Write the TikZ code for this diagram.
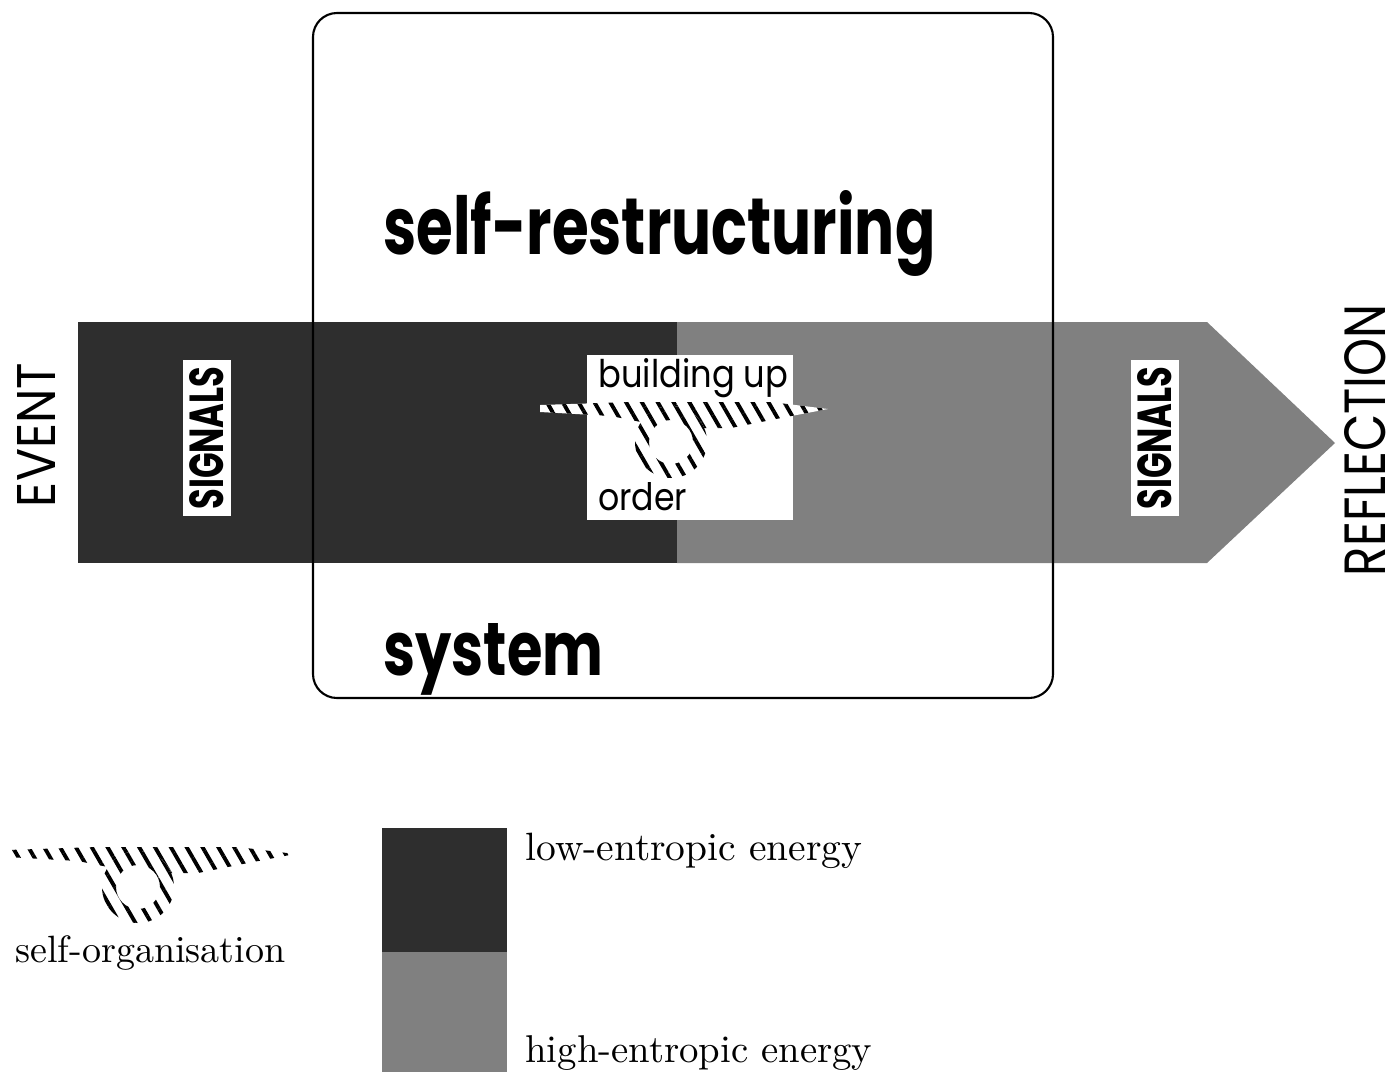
\documentclass[tikz,border=0pt]{standalone}
\usepackage{fontspec}
\usepackage{graphicx}
\usetikzlibrary{patterns.meta}
\newfontfamily\geofont{Poppins}
\newdimen\pxu
\pxu=0.02cm

\begin{document}
\begin{tikzpicture}[x=0.02cm,y=-0.02cm,
	darkfill/.style={fill=black!82},
	lightfill/.style={fill=black!50},
	hatch/.style={preaction={fill=white},pattern={Lines[angle=-60,distance=7.8pt,line width=2.2pt]},pattern color=black},
	sanstext/.style={inner sep=0pt,font=\geofont},
	seriftext/.style={inner sep=0pt,anchor=base west},
	sigbox/.style={fill=white,inner sep=0.13cm,rotate=90,font=\geofont\bfseries},
	selforg/.pic={
		\fill[hatch] (-131,-37) -- (-40,-40) -- (100,-40) -- (157,-33) -- (110,-24) -- (60,-14) -- (0,-14) -- (-60,-26) -- (-131,-30) -- cycle;
		\fill[hatch,even odd rule] (0,0) circle[radius=36] (0,0) circle[radius=22];
	}]
	\useasboundingbox (0,0) rectangle (1395,1072);
	
	% Energy band and arrow
	\fill[darkfill] (78,322) rectangle (677,563);
	\fill[lightfill] (677,322) -- (1207,322) -- (1335,443) -- (1207,563) -- (677,563) -- cycle;
	
	% System frame
	\draw[line width=1.2pt, rounded corners=0.48cm] (313,13) rectangle (1053,698);
	\node[sanstext,anchor=base west] (restruct) at (383,254) {\resizebox{552\pxu}{64\pxu}{\bfseries self-restructuring}};
	\node[sanstext,anchor=base west] (system) at (383,675) {\resizebox{220\pxu}{52\pxu}{\bfseries system}};
	
	% Order box with self-organisation
	\fill[white] (587,355) rectangle (793,520);
	\node[sanstext,anchor=base west] (buildup) at (598,387) {\resizebox{190\pxu}{29\pxu}{building up}};
	\node[sanstext,anchor=base west] (order) at (598,510) {\resizebox{89\pxu}{28\pxu}{order}};
	\pic at (671,442) {selforg};
	
	% Signals
	\node[sigbox] (sigin) at (207,438) {\resizebox{143\pxu}{34\pxu}{SIGNALS}};
	\node[sigbox] (sigout) at (1155,438) {\resizebox{143\pxu}{34\pxu}{SIGNALS}};
	\node[sanstext,rotate=90] (event) at (36,435) {\resizebox{144\pxu}{38\pxu}{EVENT}};
	\node[sanstext,rotate=90] (reflect) at (1365,440) {\resizebox{272\pxu}{41\pxu}{REFLECTION}};
	
	% Legend
	\pic at (138,887) {selforg};
	\node[seriftext] (orglabel) at (15,962) {\resizebox{270\pxu}{!}{self-organisation}};
	\fill[darkfill] (382,828) rectangle (507,952);
	\fill[lightfill] (382,952) rectangle (507,1072);
	\node[seriftext] (lowlabel) at (525,860) {\resizebox{337\pxu}{!}{low-entropic energy}};
	\node[seriftext] (highlabel) at (525,1062) {\resizebox{347\pxu}{!}{high-entropic energy}};
\end{tikzpicture}
\end{document}
